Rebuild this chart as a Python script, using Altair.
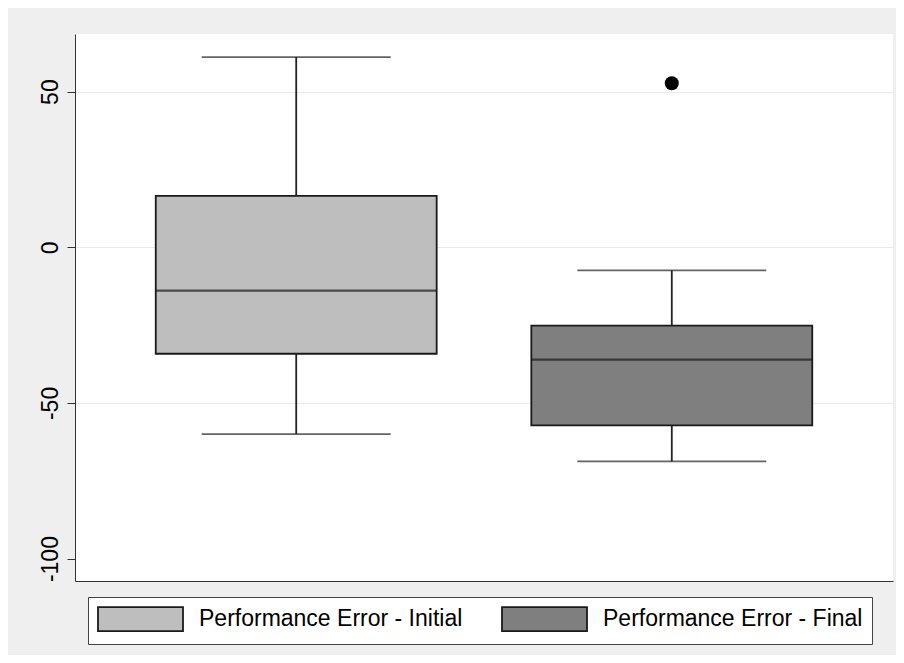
import altair as alt
import pandas as pd

# ---- data ----
groups = ["Performance Error - Initial", "Performance Error - Final"]
lower_whisker = [-60.0, -68.8]
q1 = [-34.2, -57.2]
median = [-13.9, -36.1]
q3 = [16.5, -25.2]
upper_whisker = [61.1, -7.4]
outlier_group = ["Performance Error - Final"]
outlier_value = [52.7]
y_ticks = [50, 0, -50, -100]
fill_colors = ["#bebebe", "#7f7f7f"]

stats = pd.DataFrame({
    "group": groups,
    "lo": lower_whisker,
    "q1": q1,
    "med": median,
    "q3": q3,
    "hi": upper_whisker,
})
outl = pd.DataFrame({"group": outlier_group, "value": outlier_value})

FONT = "Liberation Sans"

x_enc = alt.X(
    "group:N",
    sort=groups,
    scale=alt.Scale(paddingInner=0.252, paddingOuter=0.215),
    axis=alt.Axis(labels=False, ticks=False, title=None, domainColor="#333333",
                  domainWidth=1, grid=False),
)
y_scale = alt.Scale(domain=[-107.2, 68.5], nice=False, zero=False)
y_axis = alt.Axis(
    values=y_ticks, title=None, labelAngle=270, labelAlign="center",
    labelBaseline="bottom", labelPadding=5, labelFontSize=23, labelFont=FONT,
    labelColor="#000000", tickSize=8, tickColor="#333333", tickWidth=1,
    labelExpr="datum.value + ''",
    domainColor="#333333", domainWidth=1, grid=True, gridColor="#eaeaea",
    gridWidth=1.2,
    gridOpacity={"condition": {"test": "datum.value < -99", "value": 0}, "value": 1},
)

base = alt.Chart(stats)

whisker = base.mark_rule(color="#222222", strokeWidth=1.8).encode(
    x=x_enc,
    y=alt.Y("lo:Q", scale=y_scale, axis=y_axis),
    y2="hi:Q",
)
cap_lo = base.mark_tick(color="#222222", size=189, thickness=1.8).encode(
    x=x_enc, y=alt.Y("lo:Q", scale=y_scale)
)
cap_hi = base.mark_tick(color="#222222", size=189, thickness=1.8).encode(
    x=x_enc, y=alt.Y("hi:Q", scale=y_scale)
)
box = base.mark_bar(stroke="#1a1a1a", strokeWidth=1.8, opacity=1).encode(
    x=x_enc,
    y=alt.Y("q1:Q", scale=y_scale),
    y2="q3:Q",
    fill=alt.Fill(
        "group:N",
        sort=groups,
        scale=alt.Scale(domain=groups, range=fill_colors),
        legend=alt.Legend(
            title=None, orient="none", direction="horizontal",
            legendX=13, legendY=563,
            # 85 x 24 px swatch: unit = 12 px, starts at slot's left edge
            symbolType="M-1,-1L6.083,-1L6.083,1L-1,1Z",
            symbolSize=576, symbolStrokeColor="#1a1a1a", symbolStrokeWidth=1.8,
            labelFontSize=23, labelFont=FONT, labelColor="#000000",
            labelOffset=76, columnPadding=35, padding=9,
            strokeColor="#444444", fillColor="#ffffff", labelLimit=600,
        ),
    ),
)
med = base.mark_tick(color="#1a1a1a", size=281, thickness=2.2).encode(
    x=x_enc, y=alt.Y("med:Q", scale=y_scale)
)
pts = alt.Chart(outl).mark_point(filled=True, color="#000000", size=196, opacity=1).encode(
    x=alt.X("group:N", sort=groups), y=alt.Y("value:Q", scale=y_scale)
)

chart = (
    alt.layer(whisker, cap_lo, cap_hi, box, med, pts)
    .properties(
        width=818, height=547,
        autosize=alt.AutoSizeParams(type="none"),
        padding={"left": 67, "top": 26, "right": 3, "bottom": 74},
        background="#efefef",
    )
    .configure_view(fill="#ffffff", strokeWidth=0)
)

chart.save("out.html", embed_options={"renderer": "svg", "actions": False})
